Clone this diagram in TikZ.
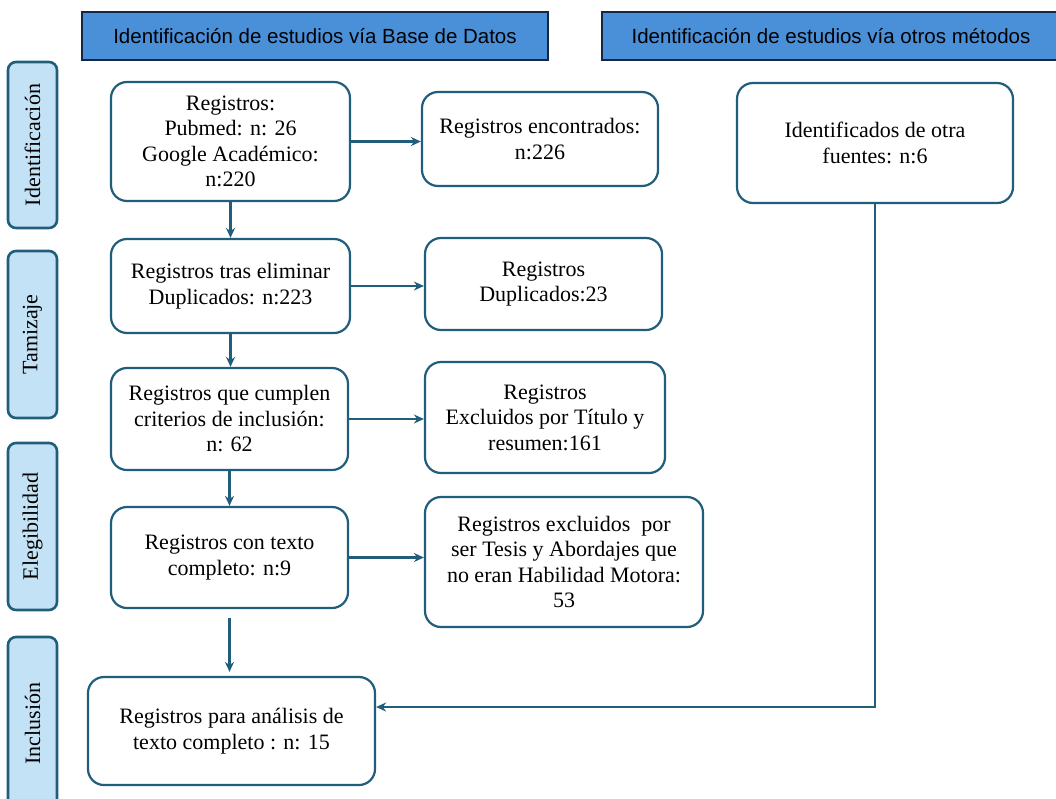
\documentclass[tikz,border=0pt]{standalone}
\usepackage{fontspec}
\setmainfont{Liberation Serif}
\newfontfamily\hdfont{Liberation Sans}
\usetikzlibrary{arrows.meta}
\definecolor{linea}{RGB}{33,94,124}
\definecolor{cabeza}{RGB}{74,144,217}
\definecolor{borde}{RGB}{20,40,70}
\definecolor{celeste}{RGB}{196,226,245}
\tikzset{hd/.style = {draw=borde, fill=cabeza, line width=2pt, minimum height=48pt, inner sep=0pt,
                      font=\hdfont\fontsize{20.5}{24}\selectfont},
         lb/.style = {draw=linea, fill=celeste, line width=2.6pt, rounded corners=8pt, rotate=90,
                      minimum height=49pt, inner sep=0pt, font=\fontsize{22}{26}\selectfont},
         bx/.style = {draw=linea, fill=white, line width=2.2pt, rounded corners=16pt, inner sep=0pt,
                      align=center, font=\fontsize{22}{25.5}\selectfont},
         fl/.style = {draw=linea, line width=2.2pt, ->}}

\begin{document}
\begin{tikzpicture}[x=1pt, y=-1pt, >={Stealth[length=10pt,width=9pt]}]
    \useasboundingbox (0,0) rectangle (1056,798);
    % cabeceras
    \node[hd, minimum width=466pt] (h1) at (315,36) {Identificación de estudios vía Base de Datos};
    \node[hd, minimum width=458pt] (h2) at (831,36) {Identificación de estudios vía otros métodos};
    % fases
    \node[lb, minimum width=166pt] (f1) at (32.5,145)   {Identificación};
    \node[lb, minimum width=167pt] (f2) at (32.5,334.5) {Tamizaje};
    \node[lb, minimum width=167pt] (f3) at (32.5,526.5) {Elegibilidad};
    \node[lb, minimum width=173pt] (f4) at (32.5,723.5) {Inclusión};
    % cajas
    \node[bx, minimum width=239pt, minimum height=119pt] (reg)   at (230.5,141.5) {Registros:\\ Pubmed: n: 26\\ Google Académico:\\ n:220};
    \node[bx, minimum width=236pt, minimum height=94pt]  (enc)   at (540,139)     {Registros encontrados:\\ n:226};
    \node[bx, minimum width=276pt, minimum height=120pt] (otra)  at (875,143)     {Identificados de otra\\ fuentes: n:6};
    \node[bx, minimum width=239pt, minimum height=94pt]  (tras)  at (230.5,286)   {Registros tras eliminar\\ Duplicados: n:223};
    \node[bx, minimum width=237pt, minimum height=92pt]  (dup)   at (543.5,284)   {Registros\\ Duplicados:23};
    \node[bx, minimum width=237pt, minimum height=102pt] (cumpl) at (229.5,419)   {Registros que cumplen\\ criterios de inclusión:\\ n: 62};
    \node[bx, minimum width=240pt, minimum height=111pt] (excl)  at (545,417.5)   {Registros\\ Excluidos por Título y\\ resumen:161};
    \node[bx, minimum width=237pt, minimum height=101pt] (texto) at (229.5,557.5) {Registros con texto\\ completo: n:9};
    \node[bx, minimum width=278pt, minimum height=130pt] (tesis) at (564,562)     {Registros excluidos\ \ por\\ ser Tesis y Abordajes que\\ no eran Habilidad Motora:\\ 53};
    \node[bx, minimum width=287pt, minimum height=108pt] (incl)  at (231.5,731)   {Registros para análisis de\\ texto completo : n: 15};
    \coordinate (codo) at (875,707);
    % flechas
    \draw[fl] (reg.east) -- (reg.east -| enc.west);
    \draw[fl] (tras.east) -- (tras.east -| dup.west);
    \draw[fl] (cumpl.east) -- (cumpl.east -| excl.west);
    \draw[fl] (texto.east) -- (texto.east -| tesis.west);
    \draw[fl] (reg.south) -- (reg.south |- tras.north);
    \draw[fl] (tras.south) -- (tras.south |- cumpl.north);
    \draw[fl] (cumpl.south) -- (cumpl.south |- texto.north);
    \draw[fl, shorten <=9pt, shorten >=4pt] (texto.south) -- (texto.south |- incl.north);
    \draw[fl] (otra.south) -- (codo) -- (codo -| incl.east);
\end{tikzpicture}
\end{document}
